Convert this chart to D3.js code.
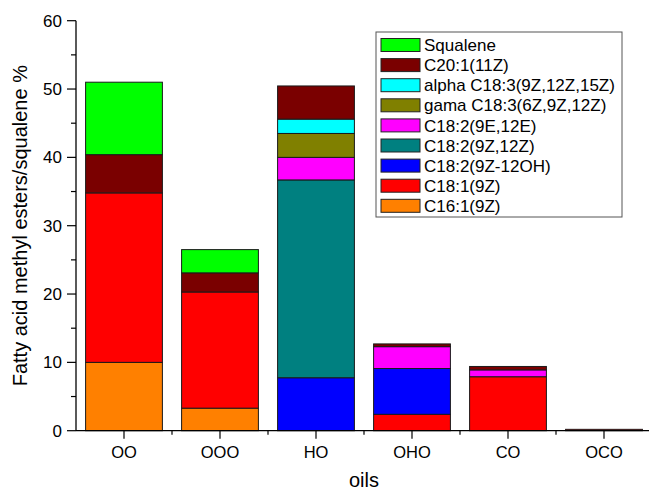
<!DOCTYPE html>
<html>
<head>
<meta charset="utf-8">
<script src="https://cdn.jsdelivr.net/npm/d3@7"></script>
<style>
  body { margin: 0; background: #fff; }
  text { font-family: Arial, "Liberation Sans", sans-serif; fill: #000; }
</style>
</head>
<body>
<div id="chart"></div>
<script>
var width = 649, height = 491;
var margin = {top: 20.7, left: 76, bottom: 60.3, right: -3};

// categories (oils) and the stacked series, bottom to top
var oils = ["OO", "OOO", "HO", "OHO", "CO", "OCO"];
var series = ["C16:1(9Z)", "C18:1(9Z)", "C18:2(9Z-12OH)", "C18:2(9Z,12Z)", "C18:2(9E,12E)",
              "gama C18:3(6Z,9Z,12Z)", "alpha C18:3(9Z,12Z,15Z)", "C20:1(11Z)", "Squalene"];
var colors = ["#ff8000", "#ff0000", "#0000ff", "#008080", "#ff00ff",
              "#808000", "#00ffff", "#7a0000", "#00ff00"];

// values per series, one per oil
var c16_1   = [10.0,  3.3, 0,     0,   0,   0];
var c18_1   = [24.8, 17.0, 0,     2.4, 7.9, 0.2];
var c18_2oh = [0,     0,   7.75,  6.7, 0,   0];
var c18_2zz = [0,     0,   28.95, 0,   0,   0];
var c18_2ee = [0,     0,   3.3,   3.2, 1.0, 0];
var gama    = [0,     0,   3.5,   0,   0,   0];
var alpha   = [0,     0,   2.1,   0,   0,   0];
var c20_1   = [5.6,   2.8, 4.85,  0.4, 0.5, 0];
var squalene= [10.6,  3.4, 0,     0,   0,   0];

var yTicks = [0, 10, 20, 30, 40, 50, 60];

var values = [c16_1, c18_1, c18_2oh, c18_2zz, c18_2ee, gama, alpha, c20_1, squalene];
var rows = oils.map(function(o, i) {
  var r = {oil: o};
  series.forEach(function(s, j) { r[s] = values[j][i]; });
  return r;
});

var svg = d3.select("#chart").append("svg")
  .attr("width", width).attr("height", height);

var x = d3.scaleBand().domain(oils).range([margin.left, width - margin.right]).padding(0);
var y = d3.scaleLinear().domain([0, 60]).range([height - margin.bottom, margin.top]);

var stack = d3.stack().keys(series)(rows);
var bw = x.bandwidth() * 0.8;

svg.append("g").selectAll("g")
  .data(stack)
  .enter().append("g")
    .attr("fill", function(d, i) { return colors[i]; })
  .selectAll("rect")
  .data(function(d) { return d.filter(function(p) { return p[1] - p[0] > 0; }); })
  .enter().append("rect")
    .attr("x", function(d) { return x(d.data.oil) + (x.bandwidth() - bw) / 2; })
    .attr("width", bw)
    .attr("y", function(d) { return y(d[1]); })
    .attr("height", function(d) { return y(d[0]) - y(d[1]); })
    .attr("stroke", "#1a1a1a")
    .attr("stroke-width", 1);

// y axis
var yAxis = svg.append("g").attr("transform", "translate(" + margin.left + ",0)");
yAxis.append("line").attr("x1", 0).attr("x2", 0)
  .attr("y1", y(0)).attr("y2", y(60)).attr("stroke", "#000").attr("stroke-width", 1.3);
yAxis.selectAll(".major").data(yTicks).enter().append("line")
  .attr("x1", -9).attr("x2", 0)
  .attr("y1", function(d) { return y(d); }).attr("y2", function(d) { return y(d); })
  .attr("stroke", "#000").attr("stroke-width", 1.2);
yAxis.selectAll(".minor").data(d3.range(5, 60, 10)).enter().append("line")
  .attr("x1", -5).attr("x2", 0)
  .attr("y1", function(d) { return y(d); }).attr("y2", function(d) { return y(d); })
  .attr("stroke", "#000").attr("stroke-width", 1.2);
yAxis.selectAll("text").data(yTicks).enter().append("text")
  .attr("x", -14).attr("y", function(d) { return y(d); })
  .attr("dy", "0.35em").attr("text-anchor", "end")
  .attr("font-size", 17).text(function(d) { return d; });

// x axis
var xAxis = svg.append("g").attr("transform", "translate(0," + y(0) + ")");
xAxis.append("line").attr("x1", margin.left).attr("x2", width - margin.right)
  .attr("y1", 0).attr("y2", 0).attr("stroke", "#000").attr("stroke-width", 1.3);
xAxis.selectAll(".major").data(oils).enter().append("line")
  .attr("x1", function(d) { return x(d) + x.bandwidth() / 2; })
  .attr("x2", function(d) { return x(d) + x.bandwidth() / 2; })
  .attr("y1", 0).attr("y2", 8).attr("stroke", "#000").attr("stroke-width", 1.2);
xAxis.selectAll(".minor").data(oils.slice(1)).enter().append("line")
  .attr("x1", function(d) { return x(d); }).attr("x2", function(d) { return x(d); })
  .attr("y1", 0).attr("y2", 4).attr("stroke", "#000").attr("stroke-width", 1.2);
xAxis.selectAll("text").data(oils).enter().append("text")
  .attr("x", function(d) { return x(d) + x.bandwidth() / 2; })
  .attr("y", 27).attr("text-anchor", "middle")
  .attr("font-size", 16.5).text(function(d) { return d; });

// axis titles
svg.append("text")
  .attr("transform", "translate(20," + (y(0) + y(60)) / 2 + ") rotate(-90)")
  .attr("dy", "0.35em")
  .attr("text-anchor", "middle").attr("font-size", 20)
  .text("Fatty acid methyl esters/squalene %");
svg.append("text")
  .attr("x", (margin.left + width - margin.right) / 2).attr("y", 487)
  .attr("text-anchor", "middle").attr("font-size", 20).text("oils");

// legend, top entry is the top of the stack
var lg = svg.append("g").attr("transform", "translate(376,32)");
lg.append("rect").attr("width", 246).attr("height", 185)
  .attr("fill", "#fff").attr("stroke", "#555").attr("stroke-width", 1);
var items = series.map(function(s, i) { return {name: s, color: colors[i]}; }).reverse();
var li = lg.selectAll(".item").data(items).enter().append("g")
  .attr("transform", function(d, i) { return "translate(5," + (6.5 + i * 20.1) + ")"; });
li.append("rect").attr("width", 39).attr("height", 13)
  .attr("fill", function(d) { return d.color; }).attr("stroke", "#222");
li.append("text").attr("x", 43).attr("y", 6.5).attr("dy", "0.36em")
  .attr("font-size", 17).text(function(d) { return d.name; });
</script>
</body>
</html>
